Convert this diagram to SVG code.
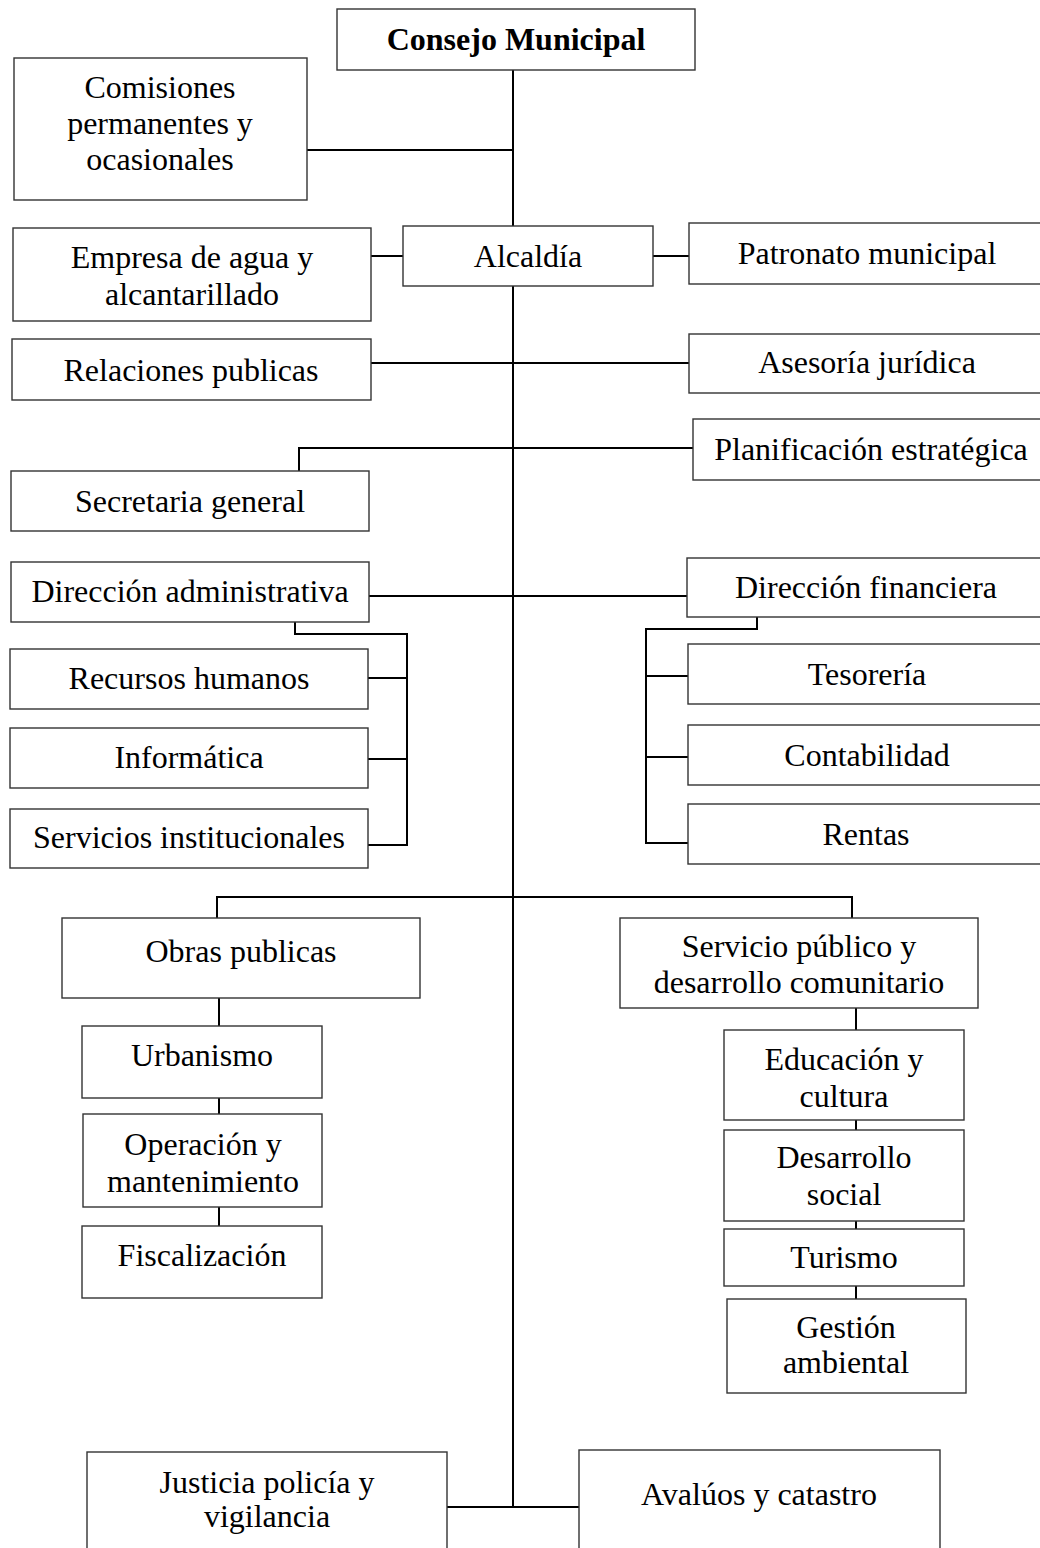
<svg xmlns="http://www.w3.org/2000/svg" width="1040" height="1548" viewBox="0 0 1040 1548">
<style>
.b{fill:#fff;stroke:#333;stroke-width:1.4}
.t{font-family:"Liberation Serif","Times New Roman",serif;font-size:32px;fill:#000;text-anchor:middle}
.c{fill:none;stroke:#000;stroke-width:2}
</style>
<rect width="1040" height="1548" fill="#fff"/>
<g id="connectors">
<path class="c" d="M513 70V226M513 286V1507"/>
<path class="c" d="M307 150H513"/>
<path class="c" d="M371 256H403M653 256H689"/>
<path class="c" d="M371 363H689"/>
<path class="c" d="M299 471V448H693"/>
<path class="c" d="M369 596H687"/>
<path class="c" d="M295 622V634H407V845H368M368 678H407M368 759H407"/>
<path class="c" d="M757 617V629H646V843H688M646 676H688M646 757H688"/>
<path class="c" d="M217 918V897H852V918"/>
<path class="c" d="M219 998V1026M219 1098V1114M219 1207V1226"/>
<path class="c" d="M856 1008V1030M856 1120V1130M856 1221V1229M856 1286V1299"/>
<path class="c" d="M447 1507H579"/>
</g>
<g id="consejo"><rect class="b" x="337" y="9" width="358" height="61"/><text class="t" x="516" y="50" font-weight="bold">Consejo Municipal</text></g>
<g id="comisiones"><rect class="b" x="14" y="58" width="293" height="142"/><text class="t" x="160" y="98">Comisiones</text><text class="t" x="160" y="134">permanentes y</text><text class="t" x="160" y="170">ocasionales</text></g>
<g id="empresa"><rect class="b" x="13" y="228" width="358" height="93"/><text class="t" x="192" y="268">Empresa de agua y</text><text class="t" x="192" y="305">alcantarillado</text></g>
<g id="alcaldia"><rect class="b" x="403" y="226" width="250" height="60"/><text class="t" x="528" y="267">Alcaldía</text></g>
<g id="patronato"><rect class="b" x="689" y="223" width="360" height="61"/><text class="t" x="867" y="264">Patronato municipal</text></g>
<g id="relaciones"><rect class="b" x="12" y="339" width="359" height="61"/><text class="t" x="191" y="381">Relaciones publicas</text></g>
<g id="asesoria"><rect class="b" x="689" y="334" width="360" height="59"/><text class="t" x="867" y="373">Asesoría jurídica</text></g>
<g id="planificacion"><rect class="b" x="693" y="419" width="360" height="61"/><text class="t" x="871" y="460">Planificación estratégica</text></g>
<g id="secretaria"><rect class="b" x="11" y="471" width="358" height="60"/><text class="t" x="190" y="512">Secretaria general</text></g>
<g id="dir-admin"><rect class="b" x="11" y="562" width="358" height="60"/><text class="t" x="190" y="602">Dirección administrativa</text></g>
<g id="dir-fin"><rect class="b" x="687" y="558" width="360" height="59"/><text class="t" x="866" y="598">Dirección financiera</text></g>
<g id="recursos"><rect class="b" x="10" y="649" width="358" height="60"/><text class="t" x="189" y="689">Recursos humanos</text></g>
<g id="informatica"><rect class="b" x="10" y="728" width="358" height="60"/><text class="t" x="189" y="768">Informática</text></g>
<g id="servicios-inst"><rect class="b" x="10" y="809" width="358" height="59"/><text class="t" x="189" y="848">Servicios institucionales</text></g>
<g id="tesoreria"><rect class="b" x="688" y="644" width="360" height="60"/><text class="t" x="867" y="685">Tesorería</text></g>
<g id="contabilidad"><rect class="b" x="688" y="725" width="360" height="60"/><text class="t" x="867" y="766">Contabilidad</text></g>
<g id="rentas"><rect class="b" x="688" y="804" width="360" height="60"/><text class="t" x="866" y="845">Rentas</text></g>
<g id="obras"><rect class="b" x="62" y="918" width="358" height="80"/><text class="t" x="241" y="962">Obras publicas</text></g>
<g id="servicio-publico"><rect class="b" x="620" y="918" width="358" height="90"/><text class="t" x="799" y="957">Servicio público y</text><text class="t" x="799" y="993">desarrollo comunitario</text></g>
<g id="urbanismo"><rect class="b" x="82" y="1026" width="240" height="72"/><text class="t" x="202" y="1066">Urbanismo</text></g>
<g id="operacion"><rect class="b" x="83" y="1114" width="239" height="93"/><text class="t" x="203" y="1155">Operación y</text><text class="t" x="203" y="1192">mantenimiento</text></g>
<g id="fiscalizacion"><rect class="b" x="82" y="1226" width="240" height="72"/><text class="t" x="202" y="1266">Fiscalización</text></g>
<g id="educacion"><rect class="b" x="724" y="1030" width="240" height="90"/><text class="t" x="844" y="1070">Educación y</text><text class="t" x="844" y="1107">cultura</text></g>
<g id="desarrollo"><rect class="b" x="724" y="1130" width="240" height="91"/><text class="t" x="844" y="1168">Desarrollo</text><text class="t" x="844" y="1205">social</text></g>
<g id="turismo"><rect class="b" x="724" y="1229" width="240" height="57"/><text class="t" x="844" y="1268">Turismo</text></g>
<g id="gestion"><rect class="b" x="727" y="1299" width="239" height="94"/><text class="t" x="846" y="1338">Gestión</text><text class="t" x="846" y="1373">ambiental</text></g>
<g id="justicia"><rect class="b" x="87" y="1452" width="360" height="110"/><text class="t" x="267" y="1493">Justicia policía y</text><text class="t" x="267" y="1527">vigilancia</text></g>
<g id="avaluos"><rect class="b" x="579" y="1450" width="361" height="112"/><text class="t" x="759" y="1505">Avalúos y catastro</text></g>
</svg>
